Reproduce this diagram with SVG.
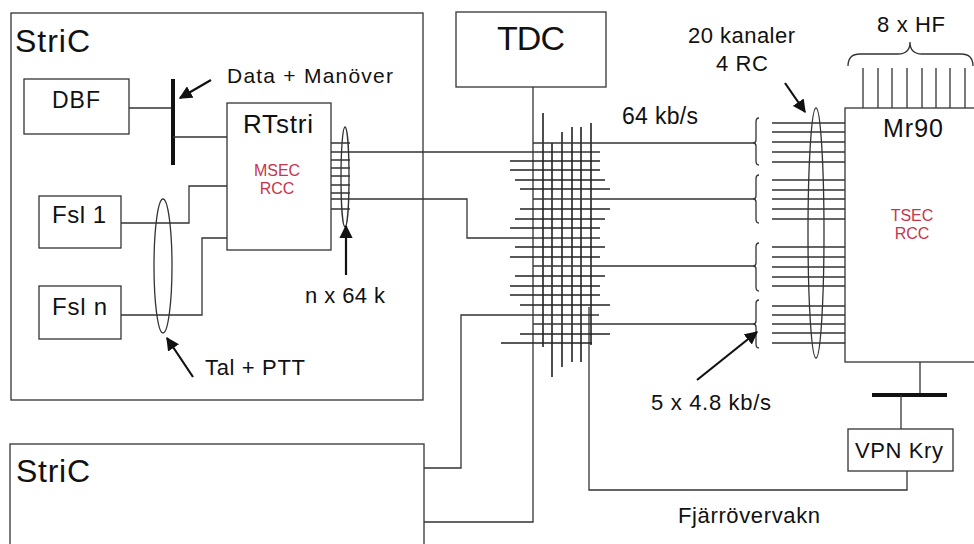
<svg xmlns="http://www.w3.org/2000/svg" width="974" height="544" viewBox="0 0 974 544">
<defs>
<style>
.box{fill:#fff;stroke:#333;stroke-width:1.3}
.ln{fill:none;stroke:#333;stroke-width:1.3}
.gl{fill:none;stroke:#222;stroke-width:1.6}
.bar{fill:none;stroke:#111;stroke-width:4}
.arr{fill:none;stroke:#111;stroke-width:2.2;marker-end:url(#ah)}
.t{font-family:"Liberation Sans",Arial,sans-serif;fill:#111}
.red{font-family:"Liberation Sans",Arial,sans-serif;fill:#c8344c;font-size:16px;text-anchor:middle}
</style>
<marker id="ah" viewBox="0 0 10 10" refX="9" refY="5" markerWidth="6" markerHeight="6" markerUnits="strokeWidth" orient="auto">
<path d="M0,0 L10,5 L0,10 z" fill="#111"/>
</marker>
</defs>
<rect width="974" height="544" fill="#fff"/>

<g id="stric-top">
<rect class="box" x="11" y="13" width="412" height="387"/>
<text class="t" x="15" y="52" font-size="32" textLength="75">StriC</text>
</g>
<g id="dbf">
<rect class="box" x="24" y="79" width="105" height="55"/>
<text class="t" x="52" y="108" font-size="23" textLength="48">DBF</text>
</g>
<g id="rtstri">
<rect class="box" x="227" y="103" width="104" height="147"/>
<text class="t" x="243" y="133" font-size="26" textLength="70">RTstri</text>
<text class="red" x="277" y="176">MSEC</text>
<text class="red" x="277" y="194">RCC</text>
</g>
<g id="fsl1">
<rect class="box" x="39" y="196" width="82" height="52"/>
<text class="t" x="52" y="223" font-size="24" textLength="54">Fsl 1</text>
</g>
<g id="fsln">
<rect class="box" x="39" y="286" width="82" height="53"/>
<text class="t" x="52" y="315" font-size="24" textLength="55">Fsl n</text>
</g>
<g id="tdc">
<rect class="box" x="456" y="12" width="150" height="75"/>
<text class="t" x="497" y="50" font-size="34" textLength="68">TDC</text>
</g>
<g id="mr90">
<rect class="box" x="845" y="108" width="140" height="254"/>
<text class="t" x="883" y="137" font-size="25" textLength="60">Mr90</text>
<text class="red" x="912" y="221">TSEC</text>
<text class="red" x="912" y="239">RCC</text>
</g>
<g id="vpn-kry">
<rect class="box" x="848" y="429" width="105" height="42"/>
<text class="t" x="855" y="458" font-size="22" textLength="88">VPN Kry</text>
</g>
<g id="stric-bottom">
<rect class="box" x="10" y="444" width="414" height="110"/>
<text class="t" x="16" y="482" font-size="32" textLength="74">StriC</text>
</g>

<g id="connectors">
<path class="ln" d="M129,108 H173"/>
<path class="bar" d="M173,79 V165"/>
<path class="ln" d="M173,137 H227"/>
<path class="ln" d="M121,223 H189 V186 H227"/>
<path class="ln" d="M121,315 H202 V238 H227"/>
<ellipse class="ln" cx="163" cy="266" rx="9" ry="67"/>
<path class="ln" d="M331,143 H350 M331,160 H350 M331,168 H350 M331,176 H350 M331,185 H350 M331,193 H350 M331,209 H350"/>
<ellipse class="ln" cx="345" cy="177" rx="4" ry="50"/>
<path class="ln" d="M331,152 H600"/>
<path class="ln" d="M331,199 H467 V238 H600"/>
<path class="ln" d="M533,87 V522 H424"/>
<path class="ln" d="M424,468 H461 V315 H599"/>
<path class="ln" d="M589,307 V490 H907 V471"/>
<path class="gl" d="M543,113 V347 M552,143 V377 M562,132 V367 M572,127 V362 M581,127 V362 M591,123 V345"/>
<path class="gl" d="M510,161 H600 M510,170 H600 M515,180 H605 M520,189 H610 M520,209 H610 M515,219 H605 M510,228 H600 M515,247 H605 M510,257 H600 M515,276 H605 M510,286 H600 M510,295 H600 M520,305 H610 M520,334 H610 M501,343 H592"/>
<path class="ln" d="M533,143 H753 M533,199 H753 M533,266 H753 M533,324 H753"/>
<path class="ln" d="M759,118 Q756,118 756,122 L756,140 Q756,143 753,143 Q756,143 756,146 L756,161 Q756,165 759,165"/>
<path class="ln" d="M759,175 Q756,175 756,179 L756,196 Q756,199 753,199 Q756,199 756,202 L756,219 Q756,223 759,223"/>
<path class="ln" d="M759,243 Q756,243 756,247 L756,263 Q756,266 753,266 Q756,266 756,269 L756,287 Q756,291 759,291"/>
<path class="ln" d="M759,300 Q756,300 756,304 L756,321 Q756,324 753,324 Q756,324 756,327 L756,344 Q756,348 759,348"/>
<path class="ln" d="M772,123 H845 M772,132 H845 M772,142 H845 M772,152 H845 M772,162 H845 M772,180 H845 M772,190 H845 M772,199 H845 M772,209 H845 M772,219 H845 M772,247 H845 M772,257 H845 M772,267 H845 M772,277 H845 M772,286 H845 M772,306 H845 M772,315 H845 M772,324 H845 M772,333 H845 M772,343 H845"/>
<ellipse class="ln" cx="816" cy="233" rx="8" ry="125"/>
<path class="ln" d="M863,68 V108 M878,68 V108 M892,68 V108 M907,68 V108 M922,68 V108 M936,68 V108 M950,68 V108 M965,68 V108"/>
<path class="ln" d="M848,66 Q848,54 860,54 L898,54 Q910,54 910,42 Q910,54 922,54 L961,54 Q973,54 973,66"/>
<path class="ln" d="M920,362 V395"/>
<path class="bar" d="M872,395 H947"/>
<path class="ln" d="M901,395 V429"/>
<path class="arr" d="M211,80 L180,98"/>
<path class="arr" d="M346,275 L346,226"/>
<path class="arr" d="M193,377 L167,338"/>
<path class="arr" d="M785,83 L805,112"/>
<path class="arr" d="M697,380 L757,332"/>
</g>

<g id="labels">
<text class="t" x="227" y="83" font-size="21" textLength="166">Data + Manöver</text>
<text class="t" x="305" y="303" font-size="22" textLength="80">n x 64 k</text>
<text class="t" x="205" y="375" font-size="22" textLength="100">Tal + PTT</text>
<text class="t" x="622" y="124" font-size="23" textLength="76">64 kb/s</text>
<text class="t" x="688" y="43" font-size="22" textLength="107">20 kanaler</text>
<text class="t" x="716" y="71" font-size="22" textLength="52">4 RC</text>
<text class="t" x="877" y="32" font-size="22" textLength="68">8 x HF</text>
<text class="t" x="651" y="410" font-size="22" textLength="120">5 x 4.8 kb/s</text>
<text class="t" x="678" y="523" font-size="22" textLength="142">Fjärrövervakn</text>
</g>
</svg>
